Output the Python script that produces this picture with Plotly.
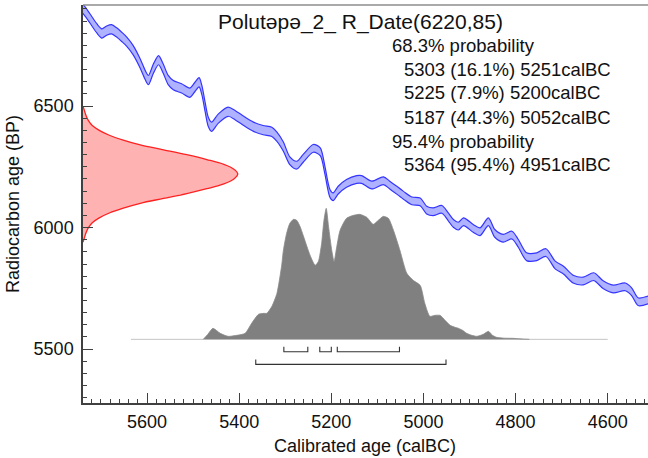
import plotly.graph_objects as go

# ---------------- data ----------------
# calibration curve (centre line), cal BC vs radiocarbon BP
curve_bc = [5742, 5737, 5724, 5709, 5698, 5688, 5677, 5666, 5655, 5644, 5630, 5615, 5604, 5597,
            5586, 5575, 5565, 5554, 5543, 5525, 5507, 5496, 5487, 5481, 5474, 5467, 5460, 5445,
            5424, 5409, 5391, 5369, 5348, 5329, 5318, 5304, 5290, 5275, 5261, 5239, 5224, 5214,
            5203, 5196, 5185, 5167, 5145, 5134, 5112, 5087, 5073, 5044, 5025, 5007, 4993, 4979,
            4960, 4946, 4935, 4924, 4913, 4892, 4877, 4859, 4845, 4827, 4808, 4794, 4776, 4754,
            4734, 4714, 4696, 4675, 4653, 4630, 4610, 4588, 4562, 4548, 4534, 4512]
curve_bp = [6905, 6895, 6861, 6820, 6799, 6810, 6816, 6803, 6785, 6765, 6730, 6676, 6628, 6607,
            6655, 6689, 6655, 6607, 6586, 6573, 6555, 6579, 6598, 6566, 6497, 6435, 6415, 6449,
            6477, 6463, 6440, 6415, 6401, 6394, 6374, 6333, 6275, 6257, 6285, 6326, 6312, 6237,
            6141, 6127, 6154, 6182, 6198, 6198, 6175, 6193, 6175, 6134, 6110, 6106, 6072, 6065,
            6075, 6044, 6017, 6006, 6024, 5997, 5983, 6024, 5976, 5956, 5969, 5935, 5880, 5880,
            5897, 5846, 5825, 5788, 5780, 5798, 5765, 5747, 5756, 5736, 5695, 5702]
curve_sd = [19] * 36 + [16] * 46

# radiocarbon measurement R_Date(6220,85): relative likelihood by BP
r_bp = [5940, 5960, 5980, 6000, 6020, 6040, 6060, 6080, 6100, 6120, 6140, 6160, 6180, 6200,
        6220, 6240, 6260, 6280, 6300, 6320, 6340, 6360, 6380, 6400, 6420, 6440, 6460, 6480, 6500]
r_dens = [0.0, 0.01, 0.02, 0.035, 0.06, 0.105, 0.17, 0.26, 0.37, 0.52, 0.67, 0.80, 0.91, 0.975,
          1.0, 0.975, 0.91, 0.80, 0.67, 0.52, 0.37, 0.26, 0.17, 0.105, 0.06, 0.035, 0.02, 0.01, 0.0]

# calibrated probability distribution (relative)
post_bc = [5478, 5468, 5457, 5441, 5424, 5405, 5387, 5373, 5358, 5346, 5340, 5329, 5318, 5308,
           5304, 5297, 5290, 5282, 5275, 5268, 5261, 5253, 5246, 5235, 5228, 5221, 5216, 5211,
           5206, 5199, 5194, 5188, 5181, 5167, 5152, 5138, 5123, 5109, 5098, 5087, 5076, 5065,
           5051, 5036, 5022, 5007, 4997, 4986, 4975, 4964, 4953, 4942, 4931, 4924, 4915, 4906,
           4895, 4884, 4870, 4859, 4850, 4841, 4825, 4806, 4790, 4770]
post_p = [0, 5, 11, 6, 3, 4, 6, 16, 25, 26, 26, 33, 46, 73,
          89, 106, 116, 120, 119, 113, 104, 93, 84, 74, 78, 96, 119, 131,
          113, 89, 78, 93, 109, 121, 124, 125, 122, 115, 119, 123, 121, 109,
          89, 66, 59, 54, 36, 23, 24, 24, 19, 14, 12, 11, 9, 6,
          4, 3, 5, 8, 4, 2, 1.2, 1, 0.5, 0]

ranges68 = [(5303, 5251), (5225, 5200), (5187, 5052)]
ranges95 = [(5364, 4951)]

title_text = "Polutəpə_2_ R_Date(6220,85)"
info_lines = ["68.3% probability",
              "5303 (16.1%) 5251calBC",
              "5225 (7.9%) 5200calBC",
              "5187 (44.3%) 5052calBC",
              "95.4% probability",
              "5364 (95.4%) 4951calBC"]
info_indent = [0, 1, 1, 1, 0, 1]

# ---------------- geometry / style ----------------
X_RANGE = [5739, 4512.5]
Y_RANGE = [5278, 6916]
W, H = 648, 458
ML, MR, MT, MB = 83, 0, 5, 55
PW, PH = W - ML - MR, H - MT - MB
FONT = "Liberation Sans, Arial, sans-serif"
AXC = "#404040"

base_bp = 5540
hist_h = 539
red_amp = 336
hist_line = (5635, 4600)

fig = go.Figure()

# calibration band
lower = [c - s for c, s in zip(curve_bp, curve_sd)]
upper = [c + s for c, s in zip(curve_bp, curve_sd)]
fig.add_trace(go.Scatter(x=curve_bc, y=lower, mode="lines",
                         line=dict(color="#3535ff", width=1.2, shape="spline", smoothing=0.8),
                         hoverinfo="skip", showlegend=False))
fig.add_trace(go.Scatter(x=curve_bc, y=upper, mode="lines", fill="tonexty",
                         fillcolor="rgba(160,165,255,0.85)",
                         line=dict(color="#3535ff", width=1.2, shape="spline", smoothing=0.8),
                         hoverinfo="skip", showlegend=False))

# radiocarbon likelihood (red) from the y axis
rx = [X_RANGE[0] - red_amp * d for d in r_dens]
fig.add_trace(go.Scatter(x=rx + [X_RANGE[0], X_RANGE[0]], y=r_bp + [r_bp[-1], r_bp[0]],
                         mode="lines", fill="toself", fillcolor="rgba(255,170,170,0.9)",
                         line=dict(color="rgba(0,0,0,0)", width=0),
                         hoverinfo="skip", showlegend=False))
fig.add_trace(go.Scatter(x=rx, y=r_bp, mode="lines",
                         line=dict(color="#ff2020", width=1.3, shape="spline"),
                         hoverinfo="skip", showlegend=False))

# baseline of posterior
fig.add_trace(go.Scatter(x=list(hist_line), y=[base_bp, base_bp], mode="lines",
                         line=dict(color="#c4c4c4", width=1), hoverinfo="skip", showlegend=False))

# posterior distribution
pmax = max(post_p)
py = [base_bp + hist_h * p / pmax for p in post_p]
fig.add_trace(go.Scatter(x=post_bc, y=py, mode="lines", fill="toself", fillcolor="#808080",
                         line=dict(color="#8a8a8a", width=0.8, shape="spline", smoothing=0.6),
                         hoverinfo="skip", showlegend=False))

# range brackets
def bracket(a, b, ybp, tick):
    fig.add_trace(go.Scatter(x=[a, a, b, b], y=[ybp + tick, ybp, ybp, ybp + tick], mode="lines",
                             line=dict(color="#333333", width=1.1), hoverinfo="skip",
                             showlegend=False))

for a, b in ranges68:
    bracket(a, b, 5489, 20)
for a, b in ranges95:
    bracket(a, b, 5437, 20)

# ---------------- text ----------------
def px2paper(x, y):
    return (x - ML) / PW, (H - MB - y) / PH

ann = []
tx, ty = px2paper(216, 22)
ann.append(dict(text=title_text, x=tx, y=ty, xref="paper", yref="paper", xanchor="left",
                yanchor="middle", showarrow=False, font=dict(family=FONT, size=21, color="#111")))
line_y = [45, 69, 93, 117, 141.5, 164.5]
for t, ind, yy in zip(info_lines, info_indent, line_y):
    lx, ly = px2paper(390 if ind == 0 else 401.5, yy)
    ann.append(dict(text=t, x=lx, y=ly, xref="paper", yref="paper", xanchor="left",
                    yanchor="middle", showarrow=False, font=dict(family=FONT, size=18.5, color="#111")))
# axis titles
ax_, ay_ = px2paper(365, 446)
ann.append(dict(text="Calibrated age (calBC)", x=ax_, y=ay_, xref="paper", yref="paper",
                xanchor="center", yanchor="middle", showarrow=False,
                font=dict(family=FONT, size=18, color="#111")))
bx_, by_ = px2paper(13, 204)
ann.append(dict(text="Radiocarbon age (BP)", x=bx_, y=by_, xref="paper", yref="paper",
                xanchor="center", yanchor="middle", showarrow=False, textangle=-90,
                font=dict(family=FONT, size=18, color="#111")))

fig.update_layout(
    width=W, height=H,
    margin=dict(l=ML, r=MR, t=MT, b=MB, autoexpand=False),
    paper_bgcolor="white", plot_bgcolor="white",
    annotations=ann,
    font=dict(family=FONT, size=18, color="#111"),
    shapes=[dict(type="line", xref="paper", yref="paper", x0=0, x1=1, y0=1, y1=1,
                 line=dict(color="#8c8c8c", width=1.5))],
)
fig.update_xaxes(range=X_RANGE, showgrid=False, zeroline=False, showline=True, automargin=False,
                 linecolor=AXC, linewidth=1.5, ticks="inside", ticklen=10, tickwidth=1.2,
                 tickcolor=AXC, tick0=4600, dtick=200,
                 minor=dict(ticks="inside", ticklen=4, dtick=20, tickcolor=AXC, tickwidth=1),
                 tickfont=dict(family=FONT, size=18, color="#111"), ticklabelstandoff=2)
fig.update_yaxes(range=Y_RANGE, showgrid=False, zeroline=False, showline=True, automargin=False,
                 linecolor=AXC, linewidth=1.5, ticks="inside", ticklen=10, tickwidth=1.2,
                 tickcolor=AXC, tick0=5500, dtick=500,
                 minor=dict(ticks="inside", ticklen=4, dtick=50, tickcolor=AXC, tickwidth=1),
                 tickfont=dict(family=FONT, size=18, color="#111"), ticklabelstandoff=4)

fig.write_html("out.html", config={"displayModeBar": False},
               post_script="document.body.style.margin='0px';document.body.style.overflow='hidden';")
